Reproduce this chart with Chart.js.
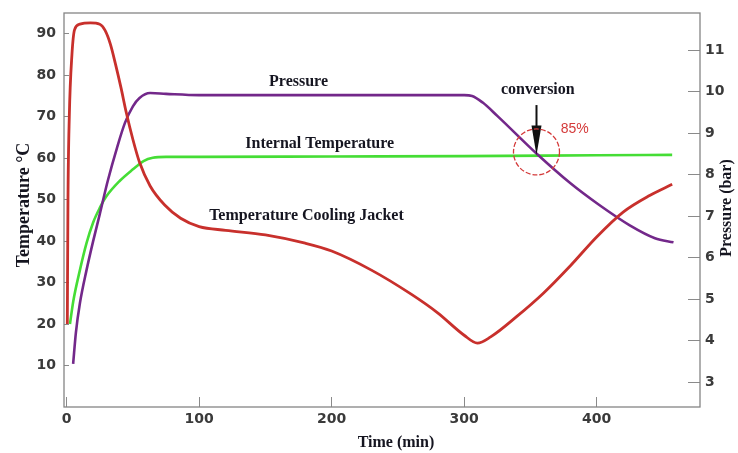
<!DOCTYPE html>
<html>
<head>
<meta charset="utf-8">
<script src="https://cdn.jsdelivr.net/npm/chart.js@4"></script>
<style>
  body { margin: 0; background: #fff; }
  #wrap { width: 738px; height: 453px; }
</style>
</head>
<body>
<div id="wrap"><canvas id="my-chart"></canvas></div>
<script>
'use strict';

// ***** DATA *****
let jacketTime = [0.5, 1, 2, 4, 6, 10, 18, 25, 29, 33, 37, 41, 45, 50, 55, 63, 74, 86, 100, 120, 150, 180, 200, 230, 260, 280, 300, 310, 320, 340, 360, 380, 400, 420, 440, 457];
let jacketTemp = [20, 50, 70, 85, 91, 92.3, 92.6, 92.3, 90.8, 87.5, 82.5, 77, 71, 64.5, 59, 53.3, 48.7, 45.5, 43.5, 42.6, 41.5, 39.5, 37.6, 33, 27.2, 22.7, 17.3, 15.4, 16.9, 21.9, 27.5, 34, 41, 47, 51, 53.7];

let internalTime = [2.5, 5, 10, 15, 20, 25, 30, 40, 50, 58, 65, 75, 100, 200, 300, 400, 457];
let internalTemp = [20, 25.5, 33, 39.5, 44.5, 48, 50.8, 54.5, 57.3, 59.3, 60.1, 60.3, 60.3, 60.4, 60.5, 60.7, 60.8];

let pressureTime = [4.9, 7, 10, 15, 20, 25, 31, 38, 44, 50, 55, 63, 75, 100, 200, 300, 306, 314, 325, 355, 380, 402, 425, 444, 458];
let pressureBar = [3.44, 4.2, 4.9, 5.7, 6.4, 7.05, 7.85, 8.65, 9.25, 9.65, 9.85, 9.97, 9.95, 9.92, 9.92, 9.92, 9.9, 9.74, 9.42, 8.5, 7.8, 7.27, 6.78, 6.47, 6.37];

let timeTicks = [0, 100, 200, 300, 400];
let tempTicks = [10, 20, 30, 40, 50, 60, 70, 80, 90];
let pressureTicks = [3, 4, 5, 6, 7, 8, 9, 10, 11];

// ***** HELPERS *****
function toPoints(xs, ys) {
  return xs.map((x, i) => ({ x: x, y: ys[i] }));
}

function setTicks(values) {
  return function(scale) {
    scale.ticks = values.map(v => ({ value: v }));
  };
}

// fixed axis sizes so the plot box lands where the picture has it
function fixSize(w, h) {
  return function(scale) {
    if (w) scale.width = w;
    if (h) scale.height = h;
    scale.paddingTop = 0;
    scale.paddingBottom = 0;
    scale.paddingLeft = 0;
    scale.paddingRight = 0;
  };
}

let tickFont = { family: 'DejaVu Sans', size: 14, weight: 'bold' };
let serif = '"Liberation Serif", "Times New Roman", serif';

// ***** PLUGIN: frame, axis titles, annotations *****
let labelsPlugin = {
  id: 'labels',
  beforeDatasetsDraw(chart) {
    let c = chart.ctx;
    let a = chart.chartArea;
    c.save();
    c.strokeStyle = '#858585';
    c.lineWidth = 1.3;
    c.strokeRect(a.left, a.top, a.right - a.left, a.bottom - a.top);
    c.restore();
  },
  afterDraw(chart) {
    let c = chart.ctx;
    let xs = chart.scales.x;
    let ys = chart.scales.y;
    let px = t => xs.getPixelForValue(t);
    let py = v => ys.getPixelForValue(v);

    c.save();
    c.fillStyle = '#151520';
    c.textAlign = 'center';
    c.textBaseline = 'middle';

    // axis titles
    c.font = 'bold 16px ' + serif;
    c.fillText('Time (min)', 396, 443);

    c.save();
    c.translate(24, 205);
    c.rotate(-Math.PI / 2);
    c.font = 'bold 18px ' + serif;
    c.fillText('Temperature \u00B0C', 0, 0);
    c.restore();

    c.save();
    c.translate(727, 208);
    c.rotate(-Math.PI / 2);
    c.font = 'bold 16px ' + serif;
    c.fillText('Pressure (bar)', 0, 0);
    c.restore();

    // curve labels
    c.font = 'bold 16px ' + serif;
    c.fillText('Pressure', px(175), py(78.3));
    c.fillText('Internal Temperature', px(191), py(63.4));
    c.fillText('Temperature Cooling Jacket', px(181), py(46));
    c.fillText('conversion', px(355.6), py(76.4));

    // conversion arrow
    let ax = px(354.6);
    let yTop = py(72.8);
    let yHead = py(67.9);
    let yTip = py(60.7);
    c.strokeStyle = '#111';
    c.lineWidth = 2;
    c.beginPath();
    c.moveTo(ax, yTop);
    c.lineTo(ax, yHead + 1);
    c.stroke();
    c.fillStyle = '#111';
    c.beginPath();
    c.moveTo(ax - 5, yHead);
    c.lineTo(ax + 5, yHead);
    c.lineTo(ax, yTip);
    c.closePath();
    c.fill();

    // 85% circle
    c.strokeStyle = '#d43a3a';
    c.lineWidth = 1.3;
    c.setLineDash([5, 2]);
    c.beginPath();
    c.arc(ax, py(61.5), 23, 0, Math.PI * 2);
    c.stroke();
    c.setLineDash([]);

    c.fillStyle = '#d43a3a';
    c.font = '14px "Liberation Sans", Arial, sans-serif';
    c.fillText('85%', px(383.5), py(67));
    c.restore();
  }
};

// ***** CHART *****
let ctx = document.getElementById('my-chart');

let chartObj = {
  type: 'line',
  data: {
    datasets: [
      {
        label: 'Temperature Cooling Jacket',
        data: toPoints(jacketTime, jacketTemp),
        yAxisID: 'y',
        borderColor: '#c8302c',
        borderWidth: 2.8
      },
      {
        label: 'Pressure',
        data: toPoints(pressureTime, pressureBar),
        yAxisID: 'y1',
        borderColor: '#73288a',
        borderWidth: 2.6
      },
      {
        label: 'Internal Temperature',
        data: toPoints(internalTime, internalTemp),
        yAxisID: 'y',
        borderColor: '#45dd35',
        borderWidth: 2.6
      }
    ]
  },
  options: {
    responsive: true,
    maintainAspectRatio: false,
    animation: false,
    layout: { padding: { top: 13, left: 0, right: 0, bottom: 0 } },
    elements: {
      point: { radius: 0 },
      line: { cubicInterpolationMode: 'monotone', fill: false }
    },
    plugins: {
      legend: { display: false },
      tooltip: { enabled: false }
    },
    scales: {
      x: {
        type: 'linear',
        min: -2,
        max: 478,
        afterBuildTicks: setTicks(timeTicks),
        afterFit: fixSize(0, 46),
        border: { display: false },
        grid: { drawOnChartArea: false, tickLength: -10, tickColor: '#8a8a8a' },
        ticks: { font: tickFont, color: '#3a3a3a', padding: 14, maxRotation: 0 }
      },
      y: {
        position: 'left',
        min: 0,
        max: 95,
        afterBuildTicks: setTicks(tempTicks),
        afterFit: fixSize(64, 0),
        border: { display: false },
        grid: { drawOnChartArea: false, tickLength: -5, tickColor: '#8a8a8a' },
        ticks: { font: tickFont, color: '#3a3a3a', padding: 13 }
      },
      y1: {
        position: 'right',
        min: 2.4,
        max: 11.9,
        afterBuildTicks: setTicks(pressureTicks),
        afterFit: fixSize(38, 0),
        border: { display: false },
        grid: { drawOnChartArea: false, tickLength: -12, tickColor: '#8a8a8a' },
        ticks: { font: tickFont, color: '#3a3a3a', padding: 17 }
      }
    }
  },
  plugins: [labelsPlugin]
};

new Chart(ctx, chartObj);
</script>
</body>
</html>
